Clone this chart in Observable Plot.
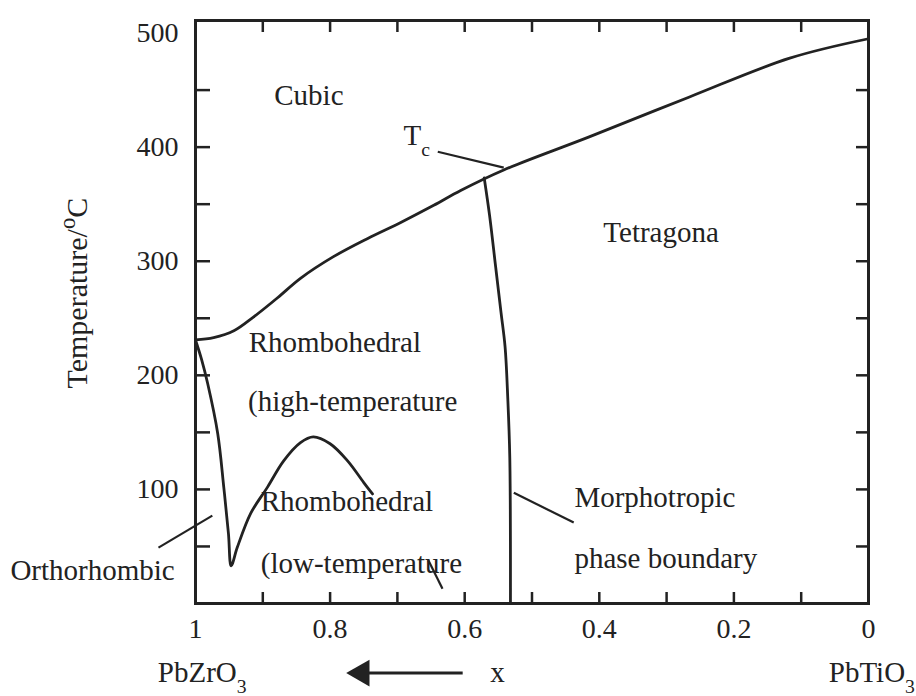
<!DOCTYPE html>
<html>
<head>
<meta charset="utf-8">
<script src="https://cdn.jsdelivr.net/npm/d3@7"></script>
<script src="https://cdn.jsdelivr.net/npm/@observablehq/plot@0.6"></script>
<style>
  html, body { margin: 0; padding: 0; background: #fff; }
  #chart { width: 916px; height: 696px; }
  #chart svg, #chart svg text, #chart svg tspan { font-family: "Liberation Serif", "DejaVu Serif", serif !important; }
</style>
</head>
<body>
<div id="chart"></div>
<script>
// ---- Data (x = mole fraction of PbZrO3, T = temperature in °C) ----
// Curie temperature line (Cubic boundary)
const tcX = [1, 0.973, 0.943, 0.914, 0.878, 0.844, 0.795, 0.744, 0.695, 0.646, 0.606, 0.542, 0.415, 0.266, 0.117, 0];
const tcT = [231, 233, 239, 251, 268, 285, 304, 320, 334, 349, 362, 380, 409, 444, 478, 495];

// Orthorhombic / rhombohedral(low) / rhombohedral(high) boundary
const lowX = [1, 0.991, 0.982, 0.967, 0.958, 0.951, 0.947, 0.938, 0.918, 0.893, 0.869, 0.844, 0.825, 0.8, 0.774, 0.75, 0.737];
const lowT = [231, 214, 193, 149, 102, 61, 33, 49, 79, 102, 125, 141, 146, 140, 125, 106, 96];

// Morphotropic phase boundary
const mpbX = [0.571, 0.563, 0.554, 0.546, 0.540, 0.536, 0.533, 0.532];
const mpbT = [373, 340, 295, 255, 225, 180, 128, 0];

// Leader lines
const leadX1 = [0.640, 0.527, 1.055, 0.654];
const leadT1 = [396, 97, 49, 38];
const leadX2 = [0.542, 0.438, 0.975, 0.633];
const leadT2 = [382, 71, 77, 13];

// Ticks
const yTickLabels = [100, 200, 300, 400, 500];
const yMinorTicks = [50, 100, 150, 200, 250, 300, 350, 400, 450];
const xTickLabels = [1, 0.8, 0.6, 0.4, 0.2, 0];
const xMinorTicks = [0.9, 0.8, 0.7, 0.6, 0.5, 0.4, 0.3, 0.2, 0.1];

// Region / annotation labels
const labelText = ["Cubic", "T_{c}", "Tetragona", "Rhombohedral", "(high-temperature",
  "Rhombohedral", "(low-temperature", "Orthorhombic", "Morphotropic", "phase boundary",
  "PbZrO_{3}", "x", "PbTiO_{3}"];
const labelX = [0.883, 0.691, 0.394, 0.921, 0.922, 0.903, 0.903, 1.275, 0.437, 0.437, 1.056, 0.562, 0.059];
const labelT = [445, 410, 325, 229, 177, 89, 35, 29, 93, 39, -61, -61, -61];

// Axis title
const yTitle = "Temperature/^{o}C";
const yTitleX = [1.175];
const yTitleT = [272];

// Direction arrow (x decreasing toward PbZrO3)
const arrowX1 = [0.603], arrowX2 = [0.765], arrowT = [-61];
const arrowHeadX = [0.753];

// ---- Build ----
const ink = "#222";
const serif = "Liberation Serif";
const pts = (xs, ys) => xs.map((x, i) => ({x, T: ys[i]}));
const leaders = leadX1.map((x, i) => ({x1: x, T1: leadT1[i], x2: leadX2[i], T2: leadT2[i]}));
const labels = labelText.map((t, i) => ({t, x: labelX[i], T: labelT[i]}));

const chart = Plot.plot({
  width: 916,
  height: 696,
  marginLeft: 195,
  marginRight: 48,
  marginTop: 20,
  marginBottom: 93,
  style: {fontFamily: serif, fontSize: "28px", background: "#fff", color: ink},
  x: {domain: [1, 0], label: null},
  y: {domain: [0, 511], label: null},
  marks: [
    Plot.axisY(yTickLabels, {anchor: "left", tickSize: 0, tickPadding: 17, fontSize: 28, fontFamily: serif, label: null}),
    Plot.axisY(yMinorTicks, {anchor: "left", tickSize: -15, strokeWidth: 2.5, tickFormat: () => "", label: null}),
    Plot.axisY(yMinorTicks, {anchor: "right", tickSize: -13, strokeWidth: 2.5, tickFormat: () => "", label: null}),
    Plot.axisX(xTickLabels, {anchor: "bottom", tickSize: 0, tickPadding: 15, fontSize: 28, fontFamily: serif, tickFormat: d => `${d}`, label: null}),
    Plot.axisX(xMinorTicks, {anchor: "bottom", tickSize: -11, strokeWidth: 2.5, tickFormat: () => "", label: null}),
    Plot.axisX(xMinorTicks, {anchor: "top", tickSize: -11, strokeWidth: 2.5, tickFormat: () => "", label: null}),
    Plot.frame({stroke: ink, strokeWidth: 3}),
    Plot.line(pts(tcX, tcT), {x: "x", y: "T", stroke: ink, strokeWidth: 2.8, curve: "catmull-rom"}),
    Plot.line(pts(lowX, lowT), {x: "x", y: "T", stroke: ink, strokeWidth: 2.8, curve: "catmull-rom"}),
    Plot.line(pts(mpbX, mpbT), {x: "x", y: "T", stroke: ink, strokeWidth: 2.8, curve: "catmull-rom"}),
    Plot.link(leaders, {x1: "x1", y1: "T1", x2: "x2", y2: "T2", stroke: ink, strokeWidth: 2.2, clip: false}),
    Plot.text(labels, {x: "x", y: "T", text: "t", textAnchor: "start", fontSize: 29, fontFamily: serif, fill: ink, clip: false}),
    Plot.text([yTitle], {x: () => yTitleX[0], y: () => yTitleT[0], text: d => d, rotate: -90, fontSize: 30, fontFamily: serif, fill: ink, clip: false}),
    Plot.link(arrowT, {x1: () => arrowX1[0], x2: () => arrowX2[0], y1: d => d, y2: d => d, stroke: ink, strokeWidth: 3, clip: false}),
    Plot.dot(arrowT, {x: () => arrowHeadX[0], y: d => d, symbol: "triangle", r: 10, rotate: -90, fill: ink, stroke: "none", clip: false})
  ]
});

// Rich text: _{sub} and ^{sup}
d3.select(chart).selectAll("text").each(function () {
  const s = this.textContent;
  if (!/[_^]\{/.test(s)) return;
  const el = d3.select(this);
  el.text(null);
  const re = /([_^])\{([^}]*)\}/g;
  let last = 0, m;
  while ((m = re.exec(s))) {
    if (m.index > last) el.append("tspan").text(s.slice(last, m.index));
    const sub = m[1] === "_";
    el.append("tspan")
      .attr("font-size", sub ? "0.68em" : "0.75em")
      .attr("baseline-shift", sub ? "-11" : "12")
      .text(m[2]);
    last = re.lastIndex;
  }
  if (last < s.length) el.append("tspan").text(s.slice(last));
});

document.getElementById("chart").append(chart);
</script>
</body>
</html>
